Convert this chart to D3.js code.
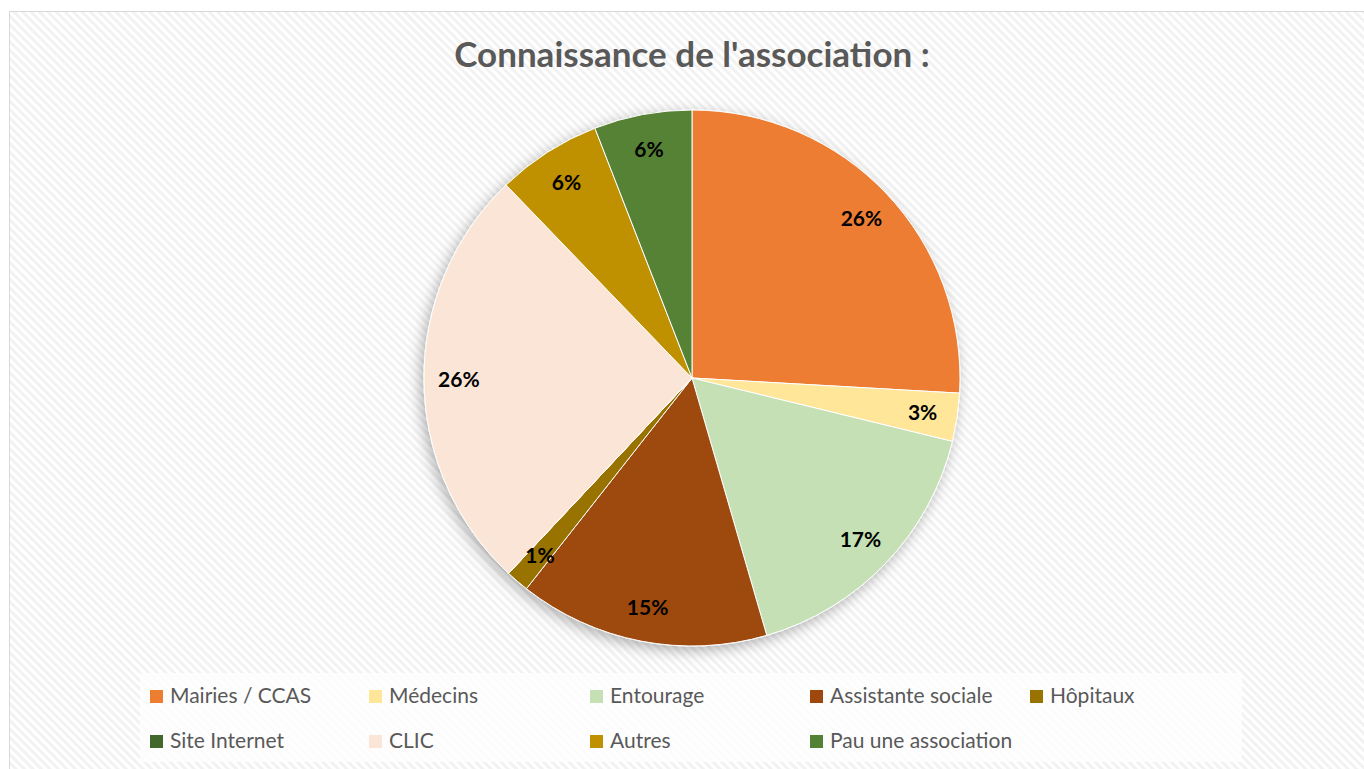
<!DOCTYPE html>
<html>
<head>
<meta charset="utf-8">
<script src="https://cdn.jsdelivr.net/npm/d3@7"></script>
<style>
  body { margin: 0; background: #fff; }
  svg { display: block; }
</style>
</head>
<body>
<svg id="chart" width="1364" height="769"></svg>
<script>
// Data (percent of answers)
var categories = ["Mairies / CCAS", "Médecins", "Entourage", "Assistante sociale", "Hôpitaux",
	"Site Internet", "CLIC", "Autres", "Pau une association"];
var values = [25.9, 2.9, 16.7, 15.1, 1.4, 0, 25.8, 6.3, 5.9];
var colors = ["#ED7D31", "#FFE699", "#C5E0B4", "#9E480E", "#997300",
	"#43682B", "#FBE5D6", "#BF9000", "#548235"];
var title = "Connaissance de l'association :";

var width = 1364,
	height = 769;

var cx = 692,
	cy = 378,
	radius = 268;

var font = "Lato, 'Open Sans', sans-serif";

var svg = d3.select("#chart");
var defs = svg.append("defs");

// diagonal stripe background
var pat = defs.append("pattern")
	.attr("id", "stripes")
	.attr("patternUnits", "userSpaceOnUse")
	.attr("width", 6)
	.attr("height", 6)
	.attr("patternTransform", "rotate(-45)");
pat.append("rect").attr("width", 6).attr("height", 6).attr("fill", "#ffffff");
pat.append("rect").attr("width", 3).attr("height", 6).attr("fill", "#f2f2f2");

var shadow = defs.append("filter")
	.attr("id", "shadow")
	.attr("x", "-20%").attr("y", "-20%")
	.attr("width", "140%").attr("height", "140%");
shadow.append("feDropShadow")
	.attr("dx", -3)
	.attr("dy", 4)
	.attr("stdDeviation", 7)
	.attr("flood-color", "#000")
	.attr("flood-opacity", 0.3);

// chart area
svg.append("rect")
	.attr("x", 9.5)
	.attr("y", 11.5)
	.attr("width", width - 9)
	.attr("height", height)
	.attr("fill", "url(#stripes)")
	.attr("stroke", "#d9d9d9")
	.attr("stroke-width", 1);

svg.append("text")
	.attr("x", cx)
	.attr("y", 67)
	.attr("text-anchor", "middle")
	.attr("font-family", font)
	.attr("font-weight", "bold")
	.attr("font-size", 35)
	.attr("fill", "#595959")
	.text(title);

var data = categories.map(function (c, i) {
	return { name: c, value: values[i], color: colors[i] };
});

var pie = d3.pie()
	.sort(null)
	.value(function (d) { return d.value; });

var arc = d3.arc()
	.innerRadius(0)
	.outerRadius(radius);

var labelArc = d3.arc()
	.innerRadius(radius * 0.87)
	.outerRadius(radius * 0.87);

var arcs = pie(data);

var pieGroup = svg.append("g")
	.attr("transform", "translate(" + cx + "," + cy + ")");

pieGroup.append("g")
	.attr("filter", "url(#shadow)")
	.selectAll("path")
	.data(arcs)
	.enter()
	.append("path")
	.attr("d", arc)
	.attr("fill", function (d) { return d.data.color; })
	.attr("stroke", "#ffffff")
	.attr("stroke-width", 1);

pieGroup.selectAll(".label")
	.data(arcs.filter(function (d) { return d.data.value > 0; }))
	.enter()
	.append("text")
	.attr("class", "label")
	.attr("transform", function (d) { return "translate(" + labelArc.centroid(d) + ")"; })
	.attr("text-anchor", "middle")
	.attr("dy", "0.38em")
	.attr("font-family", font)
	.attr("font-weight", "bold")
	.attr("font-size", 21)
	.attr("fill", "#000")
	.text(function (d) { return Math.round(d.data.value) + "%"; });

// legend
svg.append("rect")
	.attr("x", 140)
	.attr("y", 673)
	.attr("width", 1102)
	.attr("height", 89)
	.attr("fill", "#fefefe")
	.attr("opacity", 0.85);

var colX = [150, 369, 590, 810, 1030];
var rowY = [696, 741];

var legend = svg.append("g")
	.selectAll("g")
	.data(data)
	.enter()
	.append("g")
	.attr("transform", function (d, i) {
		return "translate(" + colX[i % 5] + "," + rowY[Math.floor(i / 5)] + ")";
	});

legend.append("rect")
	.attr("x", 0)
	.attr("y", -6)
	.attr("width", 13)
	.attr("height", 13)
	.attr("fill", function (d) { return d.color; });

legend.append("text")
	.attr("x", 20)
	.attr("y", 0)
	.attr("dy", "0.35em")
	.attr("font-family", font)
	.attr("font-size", 21)
	.attr("fill", "#595959")
	.text(function (d) { return d.name; });
</script>
</body>
</html>
